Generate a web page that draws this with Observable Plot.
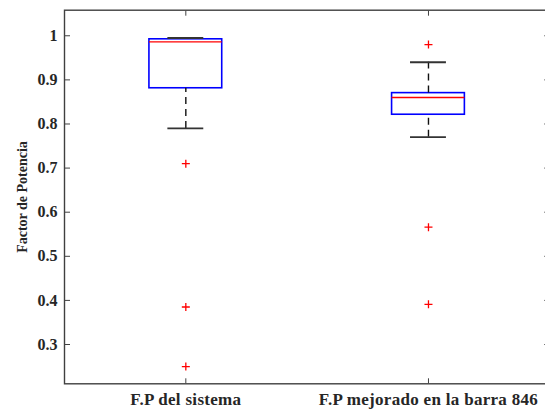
<!DOCTYPE html>
<html><head><meta charset="utf-8">
<script src="https://cdn.jsdelivr.net/npm/d3@7"></script>
<script src="https://cdn.jsdelivr.net/npm/@observablehq/plot@0.6"></script>
<style>html,body{margin:0;padding:0;background:#fff;overflow:hidden}
svg text{font-family:"Liberation Serif","Times New Roman",serif !important;font-weight:bold}
.xlab text{letter-spacing:0.3px}</style>
</head><body><div id="chart"></div>
<script>
const categories = ["F.P del sistema", "F.P mejorado en la barra 846"];
const whiskerLow = [0.790, 0.770];
const q1 = [0.881, 0.821];
const median = [0.986, 0.860];
const q3 = [0.992, 0.870];
const whiskerHigh = [0.995, 0.940];
const outliers = [[0.710, 0.385, 0.250], [0.980, 0.566, 0.391]];
const yTicks = [0.3, 0.4, 0.5, 0.6, 0.7, 0.8, 0.9, 1];
const yTickLabels = ["0.3", "0.4", "0.5", "0.6", "0.7", "0.8", "0.9", "1"];
const yLabel = "Factor de Potencia";

const boxes = categories.map((c, i) => ({pos: i + 1, lo: whiskerLow[i], q1: q1[i], med: median[i], q3: q3[i], hi: whiskerHigh[i]}));
const outlierPoints = categories.flatMap((c, i) => outliers[i].map(v => ({pos: i + 1, v})));
const halfBox = 0.15, halfCap = 0.074;
const axisColor = "#404040";
const serif = "'Liberation Serif', 'Times New Roman', serif";

const chart = Plot.plot({
  width: 545, height: 409,
  marginLeft: 64, marginRight: -4.3, marginTop: 9.7, marginBottom: 25.7,
  style: {fontFamily: serif, fontWeight: "bold", fontSize: "16px", color: "#262626", background: "#fff", overflow: "visible"},
  x: {domain: [0.5, 2.5]},
  y: {domain: [0.2109, 1.058]},
  marks: [
    Plot.axisY({ticks: yTicks, tickSize: -6, tickPadding: 13, tickFormat: d => yTickLabels[yTicks.indexOf(d)], label: null, stroke: axisColor, fontFamily: serif, fontSize: 16, fontWeight: "bold"}),
    Plot.axisY({ticks: [], tickSize: 0, label: yLabel, labelAnchor: "center", labelOffset: 47, labelArrow: "none", fontFamily: serif, fontSize: 14, fontWeight: "bold"}),
    Plot.axisY({anchor: "right", ticks: yTicks, tickSize: -6, tickFormat: () => "", label: null, stroke: axisColor}),
    Plot.axisX({ticks: [1, 2], tickSize: -5, tickPadding: 14, tickFormat: d => categories[d - 1], label: null, stroke: axisColor, fontFamily: serif, fontSize: 17, fontWeight: "bold", className: "xlab"}),
    Plot.axisX({anchor: "top", ticks: [1, 2], tickSize: -5, tickFormat: () => "", label: null, stroke: axisColor}),
    Plot.rect(boxes, {x1: d => d.pos - halfBox, x2: d => d.pos + halfBox, y1: "q1", y2: "q3", fill: "none", stroke: "#0000ff", strokeWidth: 1.6}),
    Plot.ruleY(boxes, {y: "med", x1: d => d.pos - halfBox, x2: d => d.pos + halfBox, stroke: "#ff0000", strokeWidth: 1.3}),
    Plot.ruleX(boxes, {x: "pos", y1: "q3", y2: "hi", stroke: "#111", strokeWidth: 1.4, strokeDasharray: "7,5"}),
    Plot.ruleX(boxes, {x: "pos", y1: "lo", y2: "q1", stroke: "#111", strokeWidth: 1.4, strokeDasharray: "7,5"}),
    Plot.ruleY(boxes, {y: "hi", x1: d => d.pos - halfCap, x2: d => d.pos + halfCap, stroke: "#333", strokeWidth: 1.8}),
    Plot.ruleY(boxes, {y: "lo", x1: d => d.pos - halfCap, x2: d => d.pos + halfCap, stroke: "#333", strokeWidth: 1.8}),
    Plot.dot(outlierPoints, {x: "pos", y: "v", symbol: "plus", r: 2.7, stroke: "#ff0000", strokeWidth: 1.3}),
    Plot.frame({stroke: axisColor, strokeWidth: 1.4})
  ]
});
document.getElementById("chart").appendChild(chart);
</script>
</body></html>
